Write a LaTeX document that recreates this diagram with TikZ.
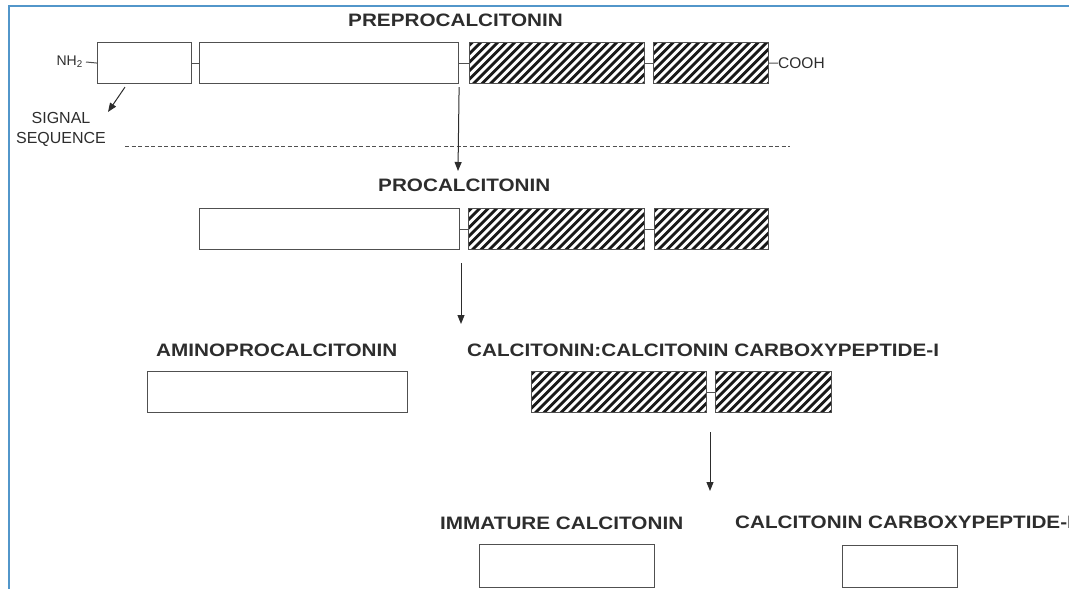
\documentclass[tikz,border=0pt]{standalone}
\usepackage{fontspec}
\setmainfont{Liberation Sans}
\newfontfamily\lblfont[FakeStretch=1.15]{Liberation Sans Bold}
\usetikzlibrary{arrows.meta,calc}
\definecolor{framecol}{RGB}{82,150,202}
\definecolor{linecol}{RGB}{80,80,80}
\definecolor{txtcol}{RGB}{45,45,45}
\definecolor{hatchcol}{RGB}{25,25,25}
\tikzset{
  box/.style={draw=linecol, line width=1.1pt, fill=white, inner sep=0pt, anchor=north west},
  hbox/.style={box, path picture={
    \foreach \k in {-6,...,22} {
      \draw[line width=2.7pt, hatchcol]
        ($(path picture bounding box.south west)+(\k*8.5,4)$) -- ++(60,-60);
    }}},
  title/.style={font=\lblfont\fontsize{18}{20}\selectfont, text=txtcol, inner sep=0pt, anchor=west},
  small/.style={font=\fontsize{16}{20.5}\selectfont, text=txtcol, inner sep=0pt},
  link/.style={draw=linecol, line width=1pt},
  arr/.style={draw=txtcol, line width=1pt, -{Triangle[length=9pt,width=7pt]}},
  dashline/.style={draw=linecol, line width=0.9pt, dash pattern=on 4pt off 2.5pt},
}
\begin{document}
\begin{tikzpicture}[x=1pt,y=-1pt]
\useasboundingbox (0,0) rectangle (1069,589);
% frame
\draw[framecol, line width=2.6pt] (8,6) -- (1069,6);
\draw[framecol, line width=2.6pt] (9,5) -- (9,589);

% row 1: preprocalcitonin
\node[title] (t1) at (348,20) {PREPROCALCITONIN};
\node[box, minimum width=94pt, minimum height=41pt] (b1) at (97,42) {};
\node[box, minimum width=259pt, minimum height=41pt] (b2) at (199,42) {};
\node[hbox, minimum width=175pt, minimum height=41pt] (b3) at (469,42) {};
\node[hbox, minimum width=115pt, minimum height=41pt] (b4) at (653,42) {};
\node[font=\fontsize{14}{16}\selectfont, text=txtcol, inner sep=0pt, anchor=east] (nh) at (83,62) {NH\textsubscript{2}};
\node[small, anchor=west, font=\fontsize{15.5}{18}\selectfont] (cooh) at (778,63) {COOH};
\draw[link] ($(nh.east)+(3,0)$) -- (b1.west);
\draw[link] (b1.east) -- (b2.west);
\draw[link] (b2.east) -- (b3.west);
\draw[link] (b3.east) -- (b4.west);
\draw[link] (b4.east) -- (cooh.west);

% signal sequence
\node[small, align=center] (sig) at (61,129.5) {SIGNAL\\SEQUENCE};
\coordinate (sigtip) at (108,112);
\draw[arr] ($(b1.south west)+(28,3)$) -- (sigtip);
\coordinate (d1) at (125,146);
\coordinate (d2) at (790,146);
\draw[dashline] (d1) -- (d2);

% arrow 1
\coordinate (a1e) at (458,171);
\draw[arr] ($(b2.south east)+(0,3)$) -- (a1e);

% row 2: procalcitonin
\node[title] (t2) at (378,185) {PROCALCITONIN};
\node[box, minimum width=260pt, minimum height=41pt] (p1) at (199,208) {};
\node[hbox, minimum width=176pt, minimum height=41pt] (p2) at (468,208) {};
\node[hbox, minimum width=114pt, minimum height=41pt] (p3) at (654,208) {};
\draw[link] (p1.east) -- (p2.west);
\draw[link] (p2.east) -- (p3.west);

% arrow 2
\coordinate (a2s) at (461,263);
\coordinate (a2e) at (461,324);
\draw[arr] (a2s) -- (a2e);

% row 3
\node[title] (t3) at (156,350.5) {AMINOPROCALCITONIN};
\node[title] (t4) at (467,350.5) {CALCITONIN:CALCITONIN CARBOXYPEPTIDE-I};
\node[box, minimum width=260pt, minimum height=41pt] (q1) at (147,371) {};
\node[hbox, minimum width=175pt, minimum height=41pt] (q2) at (531,371) {};
\node[hbox, minimum width=116pt, minimum height=41pt] (q3) at (715,371) {};
\draw[link] (q2.east) -- (q3.west);

% arrow 3
\coordinate (a3s) at (710,432);
\coordinate (a3e) at (710,491);
\draw[arr] (a3s) -- (a3e);

% row 4
\node[title] (t5) at (440,523.5) {IMMATURE CALCITONIN};
\node[title] (t6) at (735,522) {CALCITONIN CARBOXYPEPTIDE-I};
\node[box, minimum width=175pt, minimum height=43pt] (r1) at (479,544) {};
\node[box, minimum width=115pt, minimum height=42pt] (r2) at (842,545) {};
\end{tikzpicture}
\end{document}
